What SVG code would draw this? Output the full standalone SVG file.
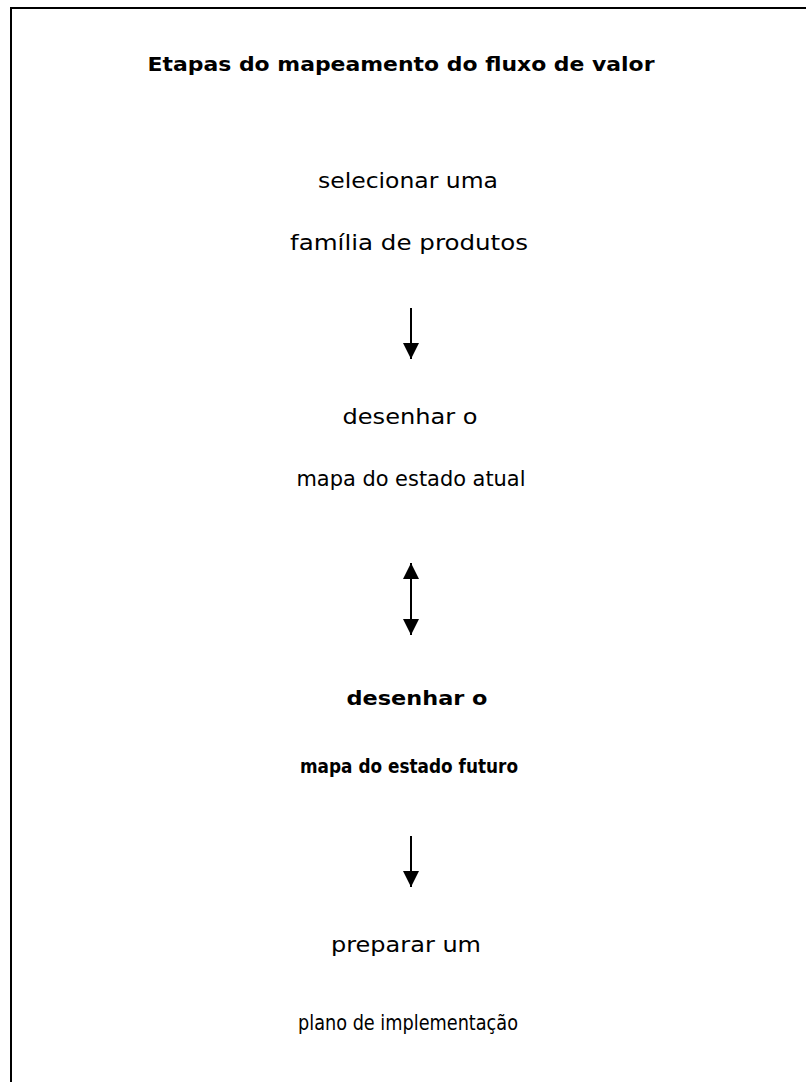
<svg xmlns="http://www.w3.org/2000/svg" width="806" height="1082" viewBox="0 0 806 1082">
<defs>
<style>
.t{font-family:"DejaVu Sans","Liberation Sans",sans-serif;font-size:21px;fill:#000;text-anchor:middle}
.b{font-weight:bold;font-size:20px}
.c{stroke:#000;stroke-width:2;fill:none}
</style>
<marker id="ah" markerUnits="userSpaceOnUse" markerWidth="16" markerHeight="16" viewBox="0 0 16 16" refX="16" refY="8" orient="auto-start-reverse">
<path d="M0,0 L16,8 L0,16 Z" fill="#000"/>
</marker>
</defs>
<rect x="0" y="0" width="806" height="1082" fill="#fff"/>
<path d="M11,1090 L11,8 L810,8" stroke="#000" stroke-width="2" fill="none"/>
<g id="title"><text class="t b" x="401" y="71" textLength="507" lengthAdjust="spacingAndGlyphs">Etapas do mapeamento do fluxo de valor</text></g>
<g id="n1"><text class="t" x="408" y="188" textLength="180" lengthAdjust="spacingAndGlyphs">selecionar uma</text><text class="t" x="409" y="250" textLength="238" lengthAdjust="spacingAndGlyphs">família de produtos</text></g>
<g id="n2"><text class="t" x="410" y="424" textLength="135" lengthAdjust="spacingAndGlyphs">desenhar o</text><text class="t" x="411" y="486" textLength="229" lengthAdjust="spacingAndGlyphs">mapa do estado atual</text></g>
<g id="n3"><text class="t b" x="417" y="705" textLength="141" lengthAdjust="spacingAndGlyphs">desenhar o</text><text class="t b" x="409" y="773" textLength="218" lengthAdjust="spacingAndGlyphs">mapa do estado futuro</text></g>
<g id="n4"><text class="t" x="406" y="952" textLength="150" lengthAdjust="spacingAndGlyphs">preparar um</text><text class="t" x="408" y="1030" textLength="220" lengthAdjust="spacingAndGlyphs">plano de implementação</text></g>
<g id="connectors">
<line class="c" x1="411" y1="308" x2="411" y2="359" marker-end="url(#ah)"/>
<line class="c" x1="411" y1="563" x2="411" y2="635" marker-start="url(#ah)" marker-end="url(#ah)"/>
<line class="c" x1="411" y1="836" x2="411" y2="887" marker-end="url(#ah)"/>
</g>
</svg>
